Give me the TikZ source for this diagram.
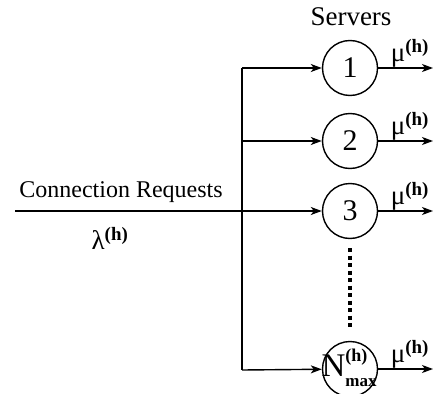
\documentclass[tikz,border=0pt]{standalone}
\usepackage{fontspec}
\setmainfont{Liberation Serif}
\usetikzlibrary{arrows.meta}

\newcommand{\hsup}{\textsuperscript{\bfseries(h)}}

\begin{document}
\begin{tikzpicture}[x=1pt, y=-1pt]
\tikzset{server/.style={draw, circle, line width=1.4pt, minimum size=55pt, inner sep=0pt,
           font=\fontsize{30}{30}\selectfont},
         flow/.style={line width=1.4pt, -{Stealth[length=11pt, width=8pt, inset=3pt]}},
         rate/.style={above, inner sep=0pt, font=\fontsize{27}{27}\selectfont}}
  \useasboundingbox (0,0) rectangle (433,393);

  \node[font=\fontsize{27}{27}\selectfont] (title) at (351,17) {Servers};
  \node[server] (s1) at (350,68) {1};
  \node[server] (s2) at (350,141) {2};
  \node[server] (s3) at (350,211) {3};
  \node[server] (sN) at (350,369) {};
  \node[font=\fontsize{33}{33}\selectfont, inner sep=0pt] (nmax) at (349,368)
    {N\rlap{\raisebox{15pt}{\fontsize{18}{18}\selectfont\bfseries(h)}}\raisebox{-10pt}{\fontsize{17}{17}\selectfont\bfseries max}};

  % arrivals, split over the servers
  \coordinate (in) at (15,211);
  \coordinate (top) at (242,68);
  \coordinate (j2) at (242,141);
  \coordinate (bot) at (242,370);
  \draw[flow] (in) -- (s3);
  \draw[line width=1.4pt] (top) -- (bot);
  \draw[flow] (top) -- (s1);
  \draw[flow] (j2) -- (s2);
  \draw[flow] (bot) -- (sN);
  \node[font=\fontsize{24}{24}\selectfont] (req) at (121,192) {Connection Requests};
  \node[font=\fontsize{27}{27}\selectfont] (lam) at (110,238) {λ\hsup};

  % departures
  \foreach \s in {s1,s2,s3,sN}
    \draw[flow] (\s.east) -- (\s.east -| 433,0) node[rate, pos=0.58] {μ\hsup};

  \draw[line width=4pt, dash pattern=on 4pt off 3.5pt] (350,248) -- (350,327);
\end{tikzpicture}
\end{document}
